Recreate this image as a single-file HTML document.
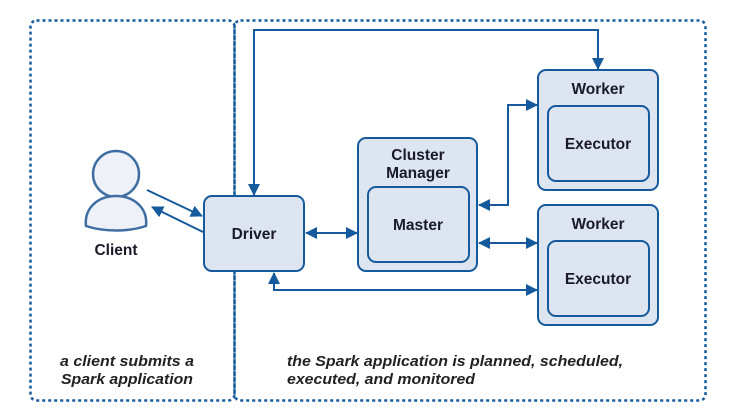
<!DOCTYPE html>
<html><head><meta charset="utf-8"><style>
html,body{margin:0;padding:0;background:#fff;}
svg{display:block;font-family:"Liberation Sans",Arial,sans-serif;}
</style></head><body>
<svg width="752" height="420" viewBox="0 0 752 420" xmlns="http://www.w3.org/2000/svg">
<defs>
<marker id="a" markerWidth="12" markerHeight="12" refX="11" refY="6" orient="auto-start-reverse" markerUnits="userSpaceOnUse">
<path d="M0,0 L12,6 L0,12 z" fill="#155a9c"/></marker>
</defs>
<g fill="none" stroke="#155a9c" stroke-width="2.5" stroke-dasharray="3,3">
<rect x="30.5" y="20.5" width="204" height="380" rx="6"/>
<rect x="234.5" y="20.5" width="471" height="380" rx="6"/>
</g>
<g fill="#dde5f0" stroke="#155a9c" stroke-width="2">
<rect x="204" y="196" width="100" height="75" rx="8"/>
<rect x="358" y="138" width="119" height="133" rx="8"/>
<rect x="368" y="187" width="101" height="75" rx="8"/>
<rect x="538" y="70" width="120" height="120" rx="8"/>
<rect x="548" y="106" width="101" height="75" rx="8"/>
<rect x="538" y="205" width="120" height="120" rx="8"/>
<rect x="548" y="241" width="101" height="75" rx="8"/>
</g>
<g fill="#eef2f8" stroke="#3f6ea3" stroke-width="2.5">
<circle cx="116" cy="174" r="23"/>
<path d="M86,226 C84,208 98,196 116,196 C134,196 148,208 146,226 C128,232 104,232 86,226 z"/>
</g>
<g fill="none" stroke="#155a9c" stroke-width="2">
<line x1="147" y1="190" x2="202" y2="216" marker-end="url(#a)"/>
<line x1="203" y1="232" x2="152" y2="207" marker-end="url(#a)"/>
<polyline points="254,195 254,30 598,30 598,69" marker-start="url(#a)" marker-end="url(#a)"/>
<line x1="306" y1="233" x2="357" y2="233" marker-start="url(#a)" marker-end="url(#a)"/>
<polyline points="479,205 508,205 508,105 537,105" marker-start="url(#a)" marker-end="url(#a)"/>
<line x1="479" y1="243" x2="537" y2="243" marker-start="url(#a)" marker-end="url(#a)"/>
<polyline points="274,273 274,290 537,290" marker-start="url(#a)" marker-end="url(#a)"/>
</g>
<g fill="#1a1a2a" font-size="15.5" font-weight="bold" text-anchor="middle">
<text x="116" y="255">Client</text>
<text x="254" y="239">Driver</text>
<text x="418" y="160">Cluster</text>
<text x="418" y="178">Manager</text>
<text x="418" y="230">Master</text>
<text x="598" y="94">Worker</text>
<text x="598" y="149">Executor</text>
<text x="598" y="229">Worker</text>
<text x="598" y="284">Executor</text>
</g>
<g fill="#222" font-size="15" font-weight="bold" font-style="italic">
<text x="60" y="366" textLength="134" lengthAdjust="spacingAndGlyphs">a client submits a</text>
<text x="61" y="384" textLength="132" lengthAdjust="spacingAndGlyphs">Spark application</text>
<text x="287" y="366" textLength="336" lengthAdjust="spacingAndGlyphs">the Spark application is planned, scheduled,</text>
<text x="287" y="384" textLength="188" lengthAdjust="spacingAndGlyphs">executed, and monitored</text>
</g>
</svg>
</body></html>
